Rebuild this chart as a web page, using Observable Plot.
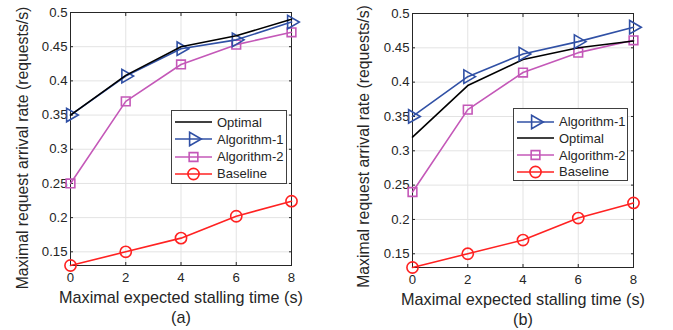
<!DOCTYPE html>
<html>
<head>
<meta charset="utf-8">
<script src="https://cdn.jsdelivr.net/npm/d3@7"></script>
<script src="https://cdn.jsdelivr.net/npm/@observablehq/plot@0.6"></script>
<style>
  html, body { margin: 0; padding: 0; background: white; }
  #root { position: relative; width: 673px; height: 330px; font-family: "Liberation Sans", Arial, sans-serif; }
  .panel { position: absolute; top: 0; }
  .legend { position: absolute; background: white; border: 1px solid #404040; box-sizing: border-box; }
  .legend .row { position: absolute; left: 0; height: 16px; display: flex; align-items: center; font-size: 13px; color: #262626; white-space: nowrap; }
</style>
</head>
<body>
<div id="root"></div>
<script>
const stallTimes = [0, 2, 4, 6, 8];
const xTicks = [0, 2, 4, 6, 8];
const yTicks = [0.15, 0.2, 0.25, 0.3, 0.35, 0.4, 0.45, 0.5];
const yTickLabels = ["0.15", "0.2", "0.25", "0.3", "0.35", "0.4", "0.45", "0.5"];

// Panel (a)
const optimalA = [0.350, 0.408, 0.450, 0.466, 0.490];
const algo1A   = [0.350, 0.407, 0.447, 0.460, 0.486];
const algo2A   = [0.250, 0.370, 0.424, 0.453, 0.471];
const baseA    = [0.130, 0.150, 0.170, 0.202, 0.224];

// Panel (b)
const algo1B   = [0.350, 0.408, 0.441, 0.459, 0.480];
const optimalB = [0.320, 0.395, 0.433, 0.450, 0.460];
const algo2B   = [0.240, 0.360, 0.414, 0.443, 0.461];
const baseB    = [0.130, 0.150, 0.170, 0.202, 0.224];

const xLabel = "Maximal expected stalling time (s)";
const yLabel = "Maximal request arrival rate (requests/s)";

const C = { opt: "#000000", a1: "#3050a5", a2: "#c458b8", base: "#ff2222" };
const styles = {
  "Optimal":     { color: C.opt,  symbol: null },
  "Algorithm-1": { color: C.a1,   symbol: "triangle", r: 5, rotate: 90 },
  "Algorithm-2": { color: C.a2,   symbol: "square", r: 4.9, rotate: 0 },
  "Baseline":    { color: C.base, symbol: "circle", r: 5.6, rotate: 0 }
};

function rows(name, vals) { return vals.map((v, i) => ({ name, x: stallTimes[i], y: v })); }

function makePanel(series, order, sub, m) {
  const marks = [
    Plot.gridX(xTicks, { stroke: "#e3e3e3", strokeOpacity: 1 }),
    Plot.gridY(yTicks, { stroke: "#e3e3e3", strokeOpacity: 1 }),
    Plot.axisY(yTicks, { anchor: "left", tickSize: -3, tickPadding: 6, stroke: "#262626",
      tickFormat: (d, i) => yTickLabels[i], fontSize: 13.2, fill: "#262626", label: null }),
    Plot.axisY(yTicks, { anchor: "right", tickSize: -3, stroke: "#262626", tickFormat: () => "", label: null }),
    Plot.axisX(xTicks, { anchor: "bottom", tickSize: -3, tickPadding: 10, stroke: "#262626",
      fontSize: 13.2, fill: "#262626", label: null }),
    Plot.axisX(xTicks, { anchor: "top", tickSize: -3, stroke: "#262626", tickFormat: () => "", label: null }),
    Plot.frame({ stroke: "#262626", strokeWidth: 1 }),
    Plot.text([xLabel], { frameAnchor: "bottom", dy: 37, text: d => d, fontSize: 16.2, fill: "#262626" }),
    Plot.text([sub], { frameAnchor: "bottom", dy: 57, text: d => d, fontSize: 16.2, fill: "#262626" }),
    Plot.text([yLabel], { frameAnchor: "left", textAnchor: "middle", rotate: -90, dx: -m.yLabelDx, dy: m.yLabelDy,
      text: d => d, fontSize: 15.8, fill: "#262626" })
  ];
  for (const name of [...order].reverse()) {
    const s = styles[name];
    const data = rows(name, series[name]);
    marks.push(Plot.line(data, { x: "x", y: "y", stroke: s.color, strokeWidth: 1.6 }));
    if (s.symbol) {
      marks.push(Plot.dot(data, { x: "x", y: "y", symbol: s.symbol, r: s.r, rotate: s.rotate,
        stroke: s.color, fill: "none", strokeWidth: 1.6 }));
    }
  }
  return Plot.plot({
    width: m.width, height: 330,
    marginLeft: m.left, marginRight: m.right, marginTop: m.top, marginBottom: m.bottom,
    x: { domain: [0, 8] },
    y: { domain: [0.13, 0.5] },
    style: { fontFamily: "Liberation Sans, Arial, sans-serif", background: "white", overflow: "visible" },
    marks
  });
}

function makeLegend(order, box) {
  const div = document.createElement("div");
  div.className = "legend";
  Object.assign(div.style, { left: box.x + "px", top: box.y + "px", width: box.w + "px", height: box.h + "px" });
  order.forEach((name, i) => {
    const s = styles[name];
    const row = document.createElement("div");
    row.className = "row";
    row.style.top = (box.rowTop + i * box.rowGap - 8) + "px";
    const ns = "http://www.w3.org/2000/svg";
    const svg = document.createElementNS(ns, "svg");
    svg.setAttribute("width", 44); svg.setAttribute("height", 16);
    svg.style.display = "block";
    const line = document.createElementNS(ns, "line");
    line.setAttribute("x1", 3); line.setAttribute("x2", 40); line.setAttribute("y1", 8); line.setAttribute("y2", 8);
    line.setAttribute("stroke", s.color); line.setAttribute("stroke-width", 1.6);
    svg.appendChild(line);
    if (s.symbol) {
      const sym = { triangle: d3.symbolTriangle, square: d3.symbolSquare, circle: d3.symbolCircle }[s.symbol];
      const p = document.createElementNS(ns, "path");
      p.setAttribute("d", d3.symbol(sym, s.r * s.r * Math.PI)());
      p.setAttribute("transform", `translate(21.5,8) rotate(${s.rotate})`);
      p.setAttribute("fill", "none"); p.setAttribute("stroke", s.color); p.setAttribute("stroke-width", 1.6);
      svg.appendChild(p);
    }
    row.appendChild(svg);
    const t = document.createElement("span");
    t.textContent = name;
    t.style.marginLeft = "1px";
    row.appendChild(t);
    div.appendChild(row);
  });
  return div;
}

const root = document.getElementById("root");

const orderA = ["Optimal", "Algorithm-1", "Algorithm-2", "Baseline"];
const seriesA = { "Optimal": optimalA, "Algorithm-1": algo1A, "Algorithm-2": algo2A, "Baseline": baseA };
const pa = makePanel(seriesA, orderA, "(a)", { width: 340, left: 70, right: 49, top: 12, bottom: 65, yLabelDx: 48, yLabelDy: 9 });
const wa = document.createElement("div"); wa.className = "panel"; wa.style.left = "0px"; wa.appendChild(pa);
root.appendChild(wa);

const orderB = ["Algorithm-1", "Optimal", "Algorithm-2", "Baseline"];
const seriesB = { "Algorithm-1": algo1B, "Optimal": optimalB, "Algorithm-2": algo2B, "Baseline": baseB };
const pb = makePanel(seriesB, orderB, "(b)", { width: 333, left: 72, right: 40, top: 13, bottom: 63, yLabelDx: 49, yLabelDy: 6 });
const wb = document.createElement("div"); wb.className = "panel"; wb.style.left = "340px"; wb.appendChild(pb);
root.appendChild(wb);

root.appendChild(makeLegend(orderA, { x: 171, y: 110, w: 116, h: 74, rowTop: 11, rowGap: 17.3 }));
root.appendChild(makeLegend(orderB, { x: 513, y: 108, w: 115, h: 73, rowTop: 12.5, rowGap: 16.8 }));
</script>
</body>
</html>
